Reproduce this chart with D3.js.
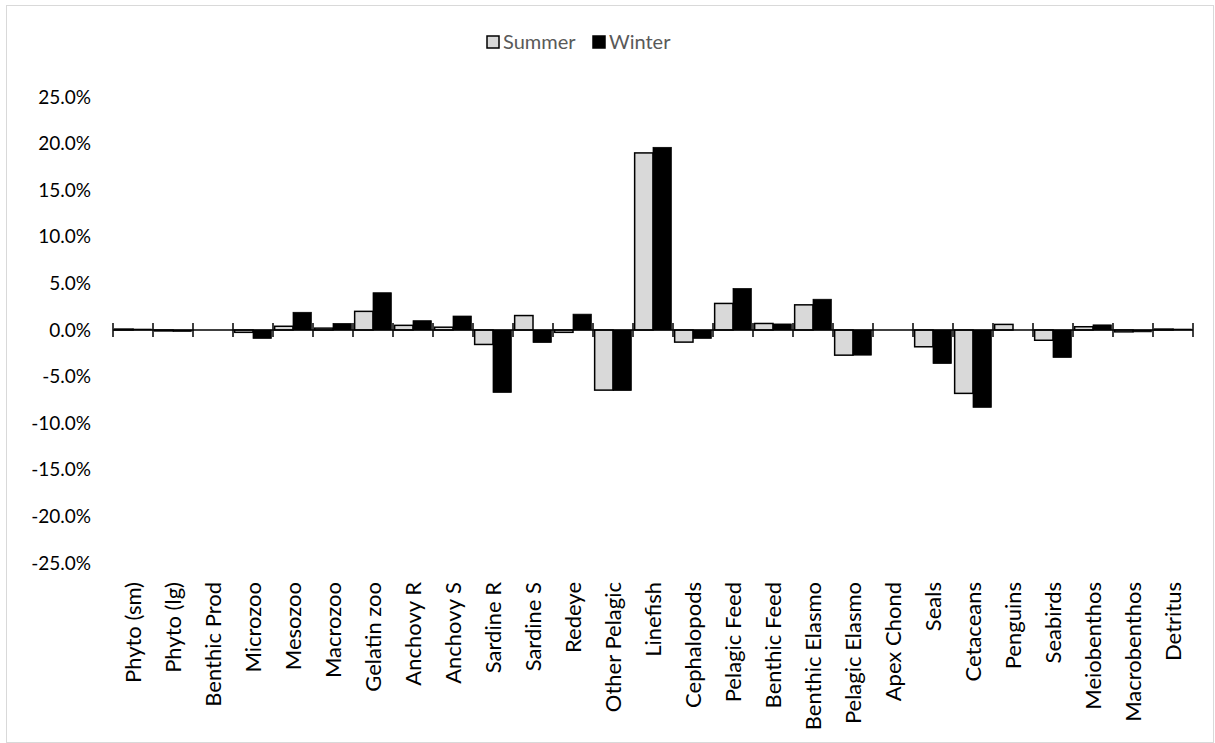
<!DOCTYPE html>
<html>
<head>
<meta charset="utf-8">
<script src="https://cdn.jsdelivr.net/npm/d3@7/dist/d3.min.js"></script>
<style>
  html, body { margin: 0; padding: 0; background: #fff; }
  svg { display: block; }
</style>
</head>
<body>
<svg id="chart" width="1215" height="743"></svg>
<script>
// Functional groups along the x axis
const categories = [
  "Phyto (sm)", "Phyto (lg)", "Benthic Prod", "Microzoo", "Mesozoo", "Macrozoo",
  "Gelatin zoo", "Anchovy R", "Anchovy S", "Sardine R", "Sardine S", "Redeye",
  "Other Pelagic", "Linefish", "Cephalopods", "Pelagic Feed", "Benthic Feed",
  "Benthic Elasmo", "Pelagic Elasmo", "Apex Chond", "Seals", "Cetaceans",
  "Penguins", "Seabirds", "Meiobenthos", "Macrobenthos", "Detritus"
];

// Relative change (%) per group, by season
const summerValues = [
  0.1, -0.1, 0, -0.25, 0.4, 0.2,
  2.0, 0.5, 0.3, -1.55, 1.55, -0.25,
  -6.45, 19.0, -1.3, 2.85, 0.7,
  2.7, -2.7, 0, -1.8, -6.8,
  0.6, -1.1, 0.35, -0.2, 0.1
];
const winterValues = [
  0.1, -0.15, 0, -0.9, 1.9, 0.7,
  4.0, 1.0, 1.5, -6.7, -1.35, 1.7,
  -6.5, 19.6, -0.9, 4.45, 0.65,
  3.3, -2.7, 0, -3.6, -8.3,
  0, -2.95, 0.55, -0.2, 0.1
];

const seriesNames = ["Summer", "Winter"];
const yTicks = [25, 20, 15, 10, 5, 0, -5, -10, -15, -20, -25];

const svg = d3.select("#chart");
const W = 1215, H = 743;

// Outer chart frame
svg.append("rect")
  .attr("x", 6.5).attr("y", 5.5)
  .attr("width", W - 8).attr("height", H - 6)
  .attr("fill", "#fff").attr("stroke", "#d9d9d9").attr("stroke-width", 1);

const plot = { left: 113, right: 1193, top: 97, bottom: 563 };

const x = d3.scaleBand()
  .domain(categories)
  .range([plot.left, plot.right])
  .paddingInner(0)
  .paddingOuter(0);

const inner = d3.scaleBand()
  .domain(seriesNames)
  .range([0, x.bandwidth()])
  .paddingInner(0)
  .paddingOuter(0.09);

const y = d3.scaleLinear().domain([-25, 25]).range([plot.bottom, plot.top]);

const fontFamily = "Lato, 'Open Sans', sans-serif";

// Y axis labels (no axis line)
const yAxis = d3.axisLeft(y)
  .tickValues(yTicks)
  .tickSize(0)
  .tickPadding(0)
  .tickFormat(d => d.toFixed(1) + "%");

const yG = svg.append("g")
  .attr("transform", `translate(91,0)`)
  .call(yAxis);
yG.select(".domain").remove();
yG.selectAll("text")
  .attr("font-family", fontFamily)
  .attr("font-size", 19)
  .attr("fill", "#000");

// Bars
const data = categories.map((c, i) => ({ c, Summer: summerValues[i], Winter: winterValues[i] }));

const groups = svg.append("g").selectAll("g")
  .data(data)
  .join("g")
  .attr("transform", d => `translate(${x(d.c)},0)`);

groups.selectAll("rect")
  .data(d => seriesNames.map(s => ({ s, v: d[s] })))
  .join("rect")
  .attr("x", d => inner(d.s))
  .attr("width", inner.bandwidth())
  .attr("y", d => y(Math.max(0, d.v)))
  .attr("height", d => Math.abs(y(d.v) - y(0)))
  .attr("fill", d => d.s === "Summer" ? "#d9d9d9" : "#000")
  .attr("stroke", "#000")
  .attr("stroke-width", d => d.s === "Summer" ? 1.5 : 0.75);

// X axis along zero with cross ticks at category boundaries
const axisG = svg.append("g");
axisG.append("line")
  .attr("x1", plot.left).attr("x2", plot.right)
  .attr("y1", y(0)).attr("y2", y(0))
  .attr("stroke", "#000").attr("stroke-width", 1.5);

const boundaries = categories.map(c => x(c)).concat([plot.right]);
axisG.selectAll("line.tick")
  .data(boundaries)
  .join("line")
  .attr("class", "tick")
  .attr("x1", d => d).attr("x2", d => d)
  .attr("y1", y(0) - 7).attr("y2", y(0) + 7)
  .attr("stroke", "#000").attr("stroke-width", 1.5);

// Category labels, rotated
svg.append("g").selectAll("text")
  .data(categories)
  .join("text")
  .attr("transform", d => `translate(${x(d) + x.bandwidth() / 2},582) rotate(-90)`)
  .attr("text-anchor", "end")
  .attr("dy", "0.36em")
  .attr("font-family", fontFamily)
  .attr("font-size", 22)
  .attr("fill", "#000")
  .text(d => d);

// Legend
const legend = svg.append("g").attr("font-family", fontFamily).attr("font-size", 20);
const legendItems = [
  { name: "Summer", x: 487, fill: "#d9d9d9" },
  { name: "Winter", x: 593, fill: "#000" }
];
legendItems.forEach(it => {
  legend.append("rect")
    .attr("x", it.x).attr("y", 36).attr("width", 12).attr("height", 12)
    .attr("fill", it.fill).attr("stroke", "#000").attr("stroke-width", 1.5);
  legend.append("text")
    .attr("x", it.x + 16).attr("y", 49)
    .attr("fill", "#595959")
    .text(it.name);
});
</script>
</body>
</html>
